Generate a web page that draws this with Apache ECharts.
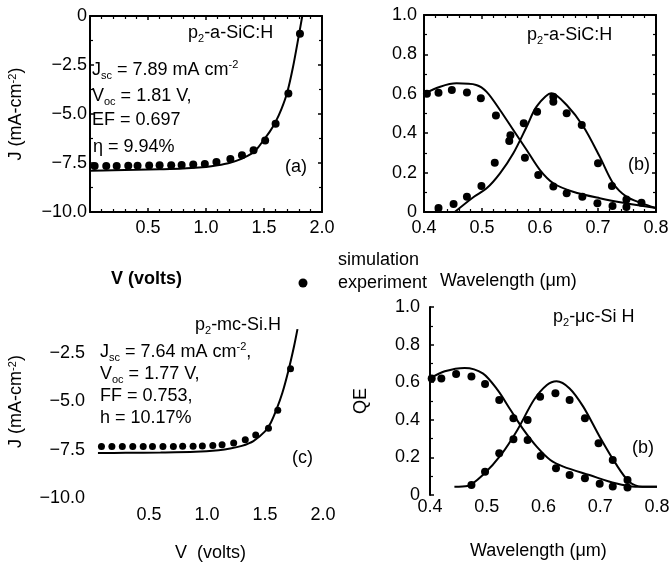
<!DOCTYPE html>
<html><head><meta charset="utf-8">
<script src="https://cdn.jsdelivr.net/npm/echarts@6/dist/echarts.min.js"></script>
<style>html,body{margin:0;padding:0;background:#fff}#c{width:670px;height:564px}</style>
</head><body><div id="c"></div>
<script>
// ---------- data: panel (a) J-V, p2-a-SiC:H ----------
const aSimV = [0, 0.2, 0.4, 0.6, 0.8, 1.0, 1.1, 1.2, 1.3, 1.4, 1.45, 1.5, 1.55, 1.6, 1.65, 1.7, 1.75, 1.8, 1.83];
const aSimJ = [-7.89, -7.87, -7.85, -7.82, -7.78, -7.70, -7.62, -7.50, -7.30, -7.00, -6.70, -6.30, -5.90, -5.40, -4.75, -3.90, -2.60, -1.00, 0];
const aExpV = [0.04, 0.14, 0.23, 0.33, 0.41, 0.51, 0.60, 0.70, 0.79, 0.89, 0.99, 1.09, 1.21, 1.31, 1.41, 1.51, 1.60, 1.71, 1.81];
const aExpJ = [-7.65, -7.65, -7.65, -7.64, -7.64, -7.63, -7.62, -7.62, -7.60, -7.58, -7.55, -7.45, -7.30, -7.10, -6.85, -6.35, -5.50, -3.95, -0.90];

// ---------- data: panel (b) QE, p2-a-SiC:H ----------
const bSim1W = [0.40, 0.428, 0.456, 0.49, 0.508, 0.531, 0.554, 0.577, 0.60, 0.623, 0.657, 0.703, 0.749, 0.80];
const bSim1Q = [0.60, 0.636, 0.653, 0.645, 0.61, 0.518, 0.416, 0.315, 0.213, 0.146, 0.103, 0.07, 0.044, 0.02];
const bSim2W = [0.453, 0.485, 0.508, 0.531, 0.554, 0.577, 0.594, 0.62, 0.646, 0.675, 0.703, 0.726, 0.749, 0.775, 0.80];
const bSim2Q = [0.0, 0.075, 0.12, 0.196, 0.298, 0.433, 0.535, 0.603, 0.543, 0.433, 0.281, 0.146, 0.078, 0.045, 0.02];
const bExp1W = [0.405, 0.425, 0.448, 0.474, 0.498, 0.524, 0.549, 0.574, 0.597, 0.623, 0.646, 0.673, 0.699, 0.725, 0.749];
const bExp1Q = [0.60, 0.605, 0.619, 0.607, 0.577, 0.49, 0.39, 0.276, 0.188, 0.129, 0.095, 0.078, 0.045, 0.03, 0.025];
const bExp2W = [0.425, 0.451, 0.474, 0.499, 0.522, 0.547, 0.572, 0.595, 0.623, 0.623, 0.646, 0.672, 0.70, 0.724, 0.749, 0.775];
const bExp2Q = [0.02, 0.041, 0.078, 0.132, 0.25, 0.36, 0.45, 0.509, 0.585, 0.56, 0.501, 0.442, 0.247, 0.132, 0.064, 0.047];

// ---------- data: panel (c) J-V, p2-mc-Si:H ----------
const cSimV = [0.06, 0.3, 0.6, 0.9, 1.1, 1.2, 1.3, 1.4, 1.5, 1.55, 1.6, 1.65, 1.7, 1.75, 1.78];
const cSimJ = [-7.67, -7.66, -7.64, -7.60, -7.52, -7.44, -7.30, -7.05, -6.55, -6.10, -5.40, -4.55, -3.45, -2.15, -1.25];
const cExpV = [0.09, 0.18, 0.27, 0.36, 0.45, 0.53, 0.62, 0.71, 0.79, 0.88, 0.96, 1.05, 1.13, 1.23, 1.33, 1.42, 1.53, 1.61, 1.72];
const cExpJ = [-7.33, -7.33, -7.33, -7.33, -7.33, -7.33, -7.33, -7.33, -7.32, -7.32, -7.30, -7.28, -7.24, -7.15, -6.98, -6.73, -6.38, -5.45, -3.30];

// ---------- data: panel (d) QE, p2-uc-Si:H ----------
const dSim1W = [0.40, 0.426, 0.461, 0.493, 0.519, 0.542, 0.565, 0.588, 0.612, 0.635, 0.681, 0.727, 0.762, 0.80];
const dSim1Q = [0.62, 0.658, 0.676, 0.647, 0.559, 0.452, 0.346, 0.257, 0.186, 0.151, 0.106, 0.062, 0.044, 0.044];
const dSim2W = [0.443, 0.466, 0.496, 0.525, 0.554, 0.583, 0.606, 0.623, 0.646, 0.67, 0.699, 0.727, 0.751, 0.774, 0.80];
const dSim2Q = [0.044, 0.048, 0.115, 0.213, 0.346, 0.505, 0.585, 0.605, 0.567, 0.47, 0.31, 0.168, 0.071, 0.044, 0.044];
const dExp1W = [0.403, 0.42, 0.446, 0.473, 0.497, 0.522, 0.547, 0.572, 0.595, 0.622, 0.646, 0.673, 0.699, 0.722, 0.748];
const dExp1Q = [0.62, 0.62, 0.644, 0.63, 0.59, 0.505, 0.408, 0.293, 0.207, 0.142, 0.106, 0.089, 0.06, 0.045, 0.04];
const dExp2W = [0.473, 0.497, 0.522, 0.547, 0.572, 0.594, 0.621, 0.646, 0.673, 0.697, 0.722, 0.748];
const dExp2Q = [0.053, 0.124, 0.222, 0.296, 0.399, 0.523, 0.541, 0.505, 0.408, 0.275, 0.186, 0.08];

// ---------- tick labels ----------
const jTickValues = [0, -2.5, -5, -7.5, -10];
const jTickLabelsA = ['0', '\u22122.5', '\u22125.0', '\u22127.5', '\u221210.0'];
const jTickLabelsC = ['', '\u22122.5', '\u22125.0', '\u22127.5', '\u221210.0'];
const vTickValues = [0, 0.5, 1, 1.5, 2];
const vTickLabels = ['', '0.5', '1.0', '1.5', '2.0'];
const wlTickValues = [0.4, 0.5, 0.6, 0.7, 0.8];
const wlTickLabels = ['0.4', '0.5', '0.6', '0.7', '0.8'];
const qeTickValues = [0, 0.2, 0.4, 0.6, 0.8, 1.0];
const qeTickLabels = ['0', '0.2', '0.4', '0.6', '0.8', '1.0'];

const FONT = '"Liberation Sans", Arial, Helvetica, sans-serif';
const INK = '#000';
const FS = 18;

function zip(xs, ys) { return xs.map((x, i) => [x, ys[i]]); }
function lookup(values, labels) {
  return function (v) {
    for (let i = 0; i < values.length; i++) if (Math.abs(v - values[i]) < 1e-6) return labels[i];
    return '';
  };
}
const RICH = {
  s: { fontSize: 11, lineHeight: 11, verticalAlign: 'bottom', color: INK, fontFamily: FONT },
  u: { fontSize: 11, lineHeight: 11, verticalAlign: 'top', color: INK, fontFamily: FONT }
};
const labelStyle = { fontSize: FS, color: INK, fontFamily: FONT };
const frameLine = { show: true, onZero: false, lineStyle: { color: INK, width: 2 } };
const tickIn = { show: true, inside: true, length: 4, lineStyle: { color: INK, width: 1.5 } };
function minor(n) { return { show: true, splitNumber: n, length: 3, lineStyle: { color: INK, width: 1.2 } }; }

function ann(x, y, text, extra) {
  return Object.assign({
    text: text, left: x, top: y - 11, padding: 0,
    textStyle: { fontSize: FS, fontWeight: 'normal', color: INK, fontFamily: FONT, lineHeight: 22, rich: RICH }
  }, extra || {});
}

const lineS = (name, x, y, xi, yi) => ({
  type: 'line', name: name, xAxisIndex: xi, yAxisIndex: yi, data: zip(x, y),
  smooth: 0.3, symbol: 'none', lineStyle: { color: INK, width: 2 }, itemStyle: { color: INK }, z: 3
});
const dotS = (name, x, y, xi, yi, size) => ({
  type: 'scatter', name: name, xAxisIndex: xi, yAxisIndex: yi, data: zip(x, y),
  symbol: 'circle', symbolSize: size, itemStyle: { color: INK, opacity: 1 }, z: 4
});

const option = {
  backgroundColor: '#fff',
  animation: false,
  textStyle: { fontFamily: FONT, color: INK },
  grid: [
    { left: 90, top: 16, width: 232, height: 196, outerBoundsMode: 'none' },
    { left: 424, top: 15, width: 232, height: 197, outerBoundsMode: 'none' },
    { left: 91, top: 305, width: 232, height: 193, outerBoundsMode: 'none' },
    { left: 430, top: 307, width: 227, height: 188, outerBoundsMode: 'none' }
  ],
  xAxis: [
    { gridIndex: 0, type: 'value', min: 0, max: 2, interval: 0.5, axisLine: frameLine, axisTick: tickIn, minorTick: minor(5),
      axisLabel: Object.assign({ margin: 7, formatter: lookup(vTickValues, vTickLabels) }, labelStyle), splitLine: { show: false } },
    { gridIndex: 0, type: 'value', position: 'top', min: 0, max: 2, interval: 0.5, axisLine: frameLine, axisTick: tickIn, minorTick: minor(5),
      axisLabel: { show: false }, splitLine: { show: false } },
    { gridIndex: 1, type: 'value', min: 0.4, max: 0.8, interval: 0.1, axisLine: frameLine, axisTick: tickIn, minorTick: minor(5),
      axisLabel: Object.assign({ margin: 7, formatter: lookup(wlTickValues, wlTickLabels) }, labelStyle), splitLine: { show: false } },
    { gridIndex: 1, type: 'value', position: 'top', min: 0.4, max: 0.8, interval: 0.1, axisLine: frameLine, axisTick: tickIn, minorTick: minor(5),
      axisLabel: { show: false }, splitLine: { show: false } },
    { gridIndex: 2, type: 'value', min: 0, max: 2, interval: 0.5, axisLine: { show: false, onZero: false }, axisTick: { show: false },
      axisLabel: Object.assign({ margin: 8, formatter: lookup(vTickValues, vTickLabels) }, labelStyle), splitLine: { show: false } },
    { gridIndex: 3, type: 'value', min: 0.4, max: 0.8, interval: 0.1, axisLine: { show: false, onZero: false }, axisTick: { show: false },
      axisLabel: Object.assign({ margin: 3, formatter: lookup(wlTickValues, wlTickLabels) }, labelStyle), splitLine: { show: false } }
  ],
  yAxis: [
    { gridIndex: 0, type: 'value', min: -10, max: 0, interval: 2.5, axisLine: frameLine, axisTick: tickIn, minorTick: minor(2),
      axisLabel: Object.assign({ margin: 3, formatter: lookup(jTickValues, jTickLabelsA) }, labelStyle), splitLine: { show: false },
      name: 'J (mA-cm{u|-2})', nameLocation: 'middle', nameGap: 65, nameRotate: 90,
      nameTextStyle: { fontSize: FS, color: INK, fontFamily: FONT, rich: RICH } },
    { gridIndex: 0, type: 'value', position: 'right', min: -10, max: 0, interval: 2.5, axisLine: frameLine, axisTick: tickIn, minorTick: minor(2),
      axisLabel: { show: false }, splitLine: { show: false } },
    { gridIndex: 1, type: 'value', min: 0, max: 1, interval: 0.2, axisLine: frameLine, axisTick: tickIn, minorTick: minor(2),
      axisLabel: Object.assign({ margin: 7, formatter: lookup(qeTickValues, qeTickLabels) }, labelStyle), splitLine: { show: false } },
    { gridIndex: 1, type: 'value', position: 'right', min: 0, max: 1, interval: 0.2, axisLine: frameLine, axisTick: tickIn, minorTick: minor(2),
      axisLabel: { show: false }, splitLine: { show: false } },
    { gridIndex: 2, type: 'value', min: -10, max: 0, interval: 2.5, axisLine: { show: false, onZero: false }, axisTick: { show: false },
      axisLabel: Object.assign({ margin: 6, formatter: lookup(jTickValues, jTickLabelsC) }, labelStyle), splitLine: { show: false },
      name: 'J (mA-cm{u|-2})', nameLocation: 'middle', nameGap: 66, nameRotate: 90,
      nameTextStyle: { fontSize: FS, color: INK, fontFamily: FONT, rich: RICH } },
    { gridIndex: 3, type: 'value', min: 0, max: 1, interval: 0.2, axisLine: frameLine, axisTick: tickIn, minorTick: minor(2),
      axisLabel: Object.assign({ margin: 10, formatter: lookup(qeTickValues, qeTickLabels) }, labelStyle), splitLine: { show: false },
      name: 'QE', nameLocation: 'middle', nameGap: 60, nameRotate: 90,
      nameTextStyle: { fontSize: FS, color: INK, fontFamily: FONT } }
  ],
  legend: {
    orient: 'vertical', left: 268, top: 246, itemWidth: 60, itemHeight: 9, itemGap: 5, selectedMode: false,
    data: [{ name: 'simulation', icon: 'none' }, { name: 'experiment', icon: 'circle' }],
    textStyle: { fontSize: FS, color: INK, fontFamily: FONT }
  },
  title: [
    ann(188, 33, 'p{s|2}-a-SiC:H'),
    ann(92, 70, 'J{s|sc} = 7.89 mA cm{u|-2}'),
    ann(92, 96, 'V{s|oc} = 1.81 V,'),
    ann(92, 120, 'EF = 0.697'),
    ann(93, 147, '\u03b7 = 9.94%'),
    ann(285, 167, '(a)'),
    ann(527, 35, 'p{s|2}-a-SiC:H'),
    ann(628, 165, '(b)'),
    ann(195, 325, 'p{s|2}-mc-Si.H'),
    ann(100, 352, 'J{s|sc} = 7.64 mA cm{u|-2},'),
    ann(100, 374, 'V{s|oc} = 1.77 V,'),
    ann(100, 396, 'FF = 0.753,'),
    ann(100, 418, 'h = 10.17%'),
    ann(292, 458, '(c)'),
    ann(553, 317, 'p{s|2}-\u03bcc-Si H'),
    ann(632, 448, '(b)'),
    ann(111, 279, 'V (volts)', { textStyle: { fontSize: FS, fontWeight: 'bold', color: INK, fontFamily: FONT, lineHeight: 22 } }),
    ann(440, 281, 'Wavelength (\u03bcm)'),
    ann(175, 553, 'V  (volts)'),
    ann(470, 551, 'Wavelength (\u03bcm)')
  ],
  series: [
    lineS('simulation', aSimV, aSimJ, 0, 0),
    dotS('experiment', aExpV, aExpJ, 0, 0, 8),
    lineS('simulation', bSim1W, bSim1Q, 2, 2),
    lineS('simulation', bSim2W, bSim2Q, 2, 2),
    dotS('experiment', bExp1W, bExp1Q, 2, 2, 8),
    dotS('experiment', bExp2W, bExp2Q, 2, 2, 8),
    lineS('simulation', cSimV, cSimJ, 4, 4),
    dotS('experiment', cExpV, cExpJ, 4, 4, 7),
    lineS('simulation', dSim1W, dSim1Q, 5, 5),
    lineS('simulation', dSim2W, dSim2Q, 5, 5),
    dotS('experiment', dExp1W, dExp1Q, 5, 5, 8),
    dotS('experiment', dExp2W, dExp2Q, 5, 5, 8)
  ]
};
const chart = echarts.init(document.getElementById('c'), null, { renderer: 'canvas' });
chart.setOption(option);
</script></body></html>
